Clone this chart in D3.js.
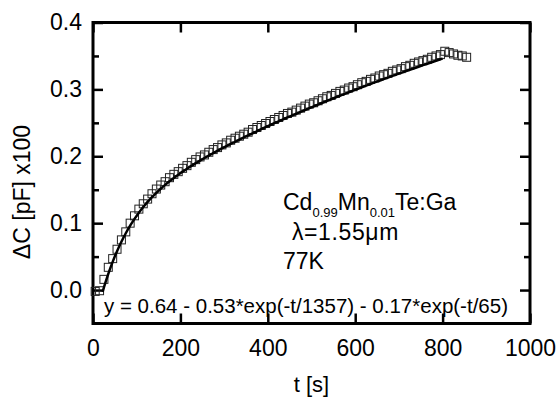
<!DOCTYPE html>
<html>
<head>
<meta charset="utf-8">
<script src="https://cdn.jsdelivr.net/npm/d3@7"></script>
<style>
  html, body { margin: 0; padding: 0; background: #fff; }
  svg { display: block; font-family: "Liberation Sans", Arial, sans-serif; }
</style>
</head>
<body>
<svg id="chart" width="560" height="403"></svg>
<script>
// Capacitance transient ΔC(t) measured every 10 s
const timeS = [5, 15, 25, 35, 45, 55, 65, 75, 85, 95, 105, 115, 125, 135, 145, 155,
  165, 175, 185, 195, 205, 215, 225, 235, 245, 255, 265, 275, 285, 295, 305, 315,
  325, 335, 345, 355, 365, 375, 385, 395, 405, 415, 425, 435, 445, 455, 465, 475,
  485, 495, 505, 515, 525, 535, 545, 555, 565, 575, 585, 595, 605, 615, 625, 635,
  645, 655, 665, 675, 685, 695, 705, 715, 725, 735, 745, 755, 765, 775, 785, 795,
  805, 815, 825, 835, 845, 855];
const deltaC = [-0.002, -0.001, 0.016, 0.034, 0.047, 0.061, 0.075, 0.087, 0.100, 0.111, 0.121, 0.129, 0.136, 0.144, 0.151, 0.157,
  0.162, 0.168, 0.173, 0.177, 0.182, 0.186, 0.191, 0.195, 0.199, 0.202, 0.206, 0.210, 0.213, 0.217, 0.220, 0.224,
  0.227, 0.230, 0.233, 0.236, 0.240, 0.243, 0.246, 0.249, 0.252, 0.255, 0.258, 0.261, 0.264, 0.266, 0.269, 0.272,
  0.275, 0.278, 0.280, 0.283, 0.286, 0.289, 0.291, 0.294, 0.297, 0.299, 0.302, 0.304, 0.307, 0.310, 0.312, 0.315,
  0.317, 0.320, 0.322, 0.324, 0.327, 0.329, 0.331, 0.334, 0.336, 0.339, 0.341, 0.343, 0.345, 0.348, 0.350, 0.352,
  0.357, 0.355, 0.353, 0.351, 0.350, 0.348];

// Two-exponential fit y = 0.64 - 0.53*exp(-t/1357) - 0.17*exp(-t/65), tabulated
const fitT = [22, 25, 35, 45, 55, 65, 75, 85, 95, 105, 115, 125, 135, 145, 155,
  165, 175, 185, 195, 205, 215, 225, 235, 245, 255, 265, 275, 285, 295, 305, 315,
  325, 335, 345, 355, 365, 375, 385, 395, 405, 415, 425, 435, 445, 455, 465, 475,
  485, 495, 505, 515, 525, 535, 545, 555, 565, 575, 585, 595, 605, 615, 625, 635,
  645, 655, 665, 675, 685, 695, 705, 715, 725, 735, 745, 755, 765, 775, 785, 795, 800];
const fitY = [-0.0027, 0.0040, 0.0243, 0.0422, 0.0581, 0.0722, 0.0849, 0.0962, 0.1064, 0.1157, 0.1241, 0.1318, 0.1389, 0.1454, 0.1515,
  0.1572, 0.1626, 0.1677, 0.1725, 0.1771, 0.1814, 0.1856, 0.1897, 0.1936, 0.1974, 0.2011, 0.2047, 0.2083, 0.2117, 0.2151, 0.2185,
  0.2217, 0.2250, 0.2281, 0.2313, 0.2344, 0.2374, 0.2405, 0.2435, 0.2464, 0.2494, 0.2523, 0.2551, 0.2580, 0.2608, 0.2636, 0.2664,
  0.2692, 0.2719, 0.2746, 0.2773, 0.2800, 0.2826, 0.2853, 0.2879, 0.2905, 0.2930, 0.2956, 0.2981, 0.3006, 0.3031, 0.3056, 0.3081,
  0.3105, 0.3129, 0.3153, 0.3177, 0.3201, 0.3224, 0.3247, 0.3271, 0.3294, 0.3316, 0.3339, 0.3362, 0.3384, 0.3406, 0.3428, 0.3450, 0.3461];

const xTicks = [0, 200, 400, 600, 800, 1000];
const yTicks = [0.0, 0.1, 0.2, 0.3, 0.4];
const yMinorTicks = [0.05, 0.15, 0.25, 0.35];
const equationText = "y = 0.64 - 0.53*exp(-t/1357) - 0.17*exp(-t/65)";

const svg = d3.select("#chart");
const padL = 93, padR = 530, padT = 22.5, padB = 323.5;

const x = d3.scaleLinear().domain([0, 1000]).range([padL, padR]);
const y = d3.scaleLinear().domain([-0.05, 0.4]).range([padB, padT]);

const tickW = 2.5;
function styleAxis(g) {
  g.select(".domain").remove();
  g.selectAll(".tick line").attr("stroke", "#000").attr("stroke-width", tickW);
  g.selectAll(".tick text").attr("fill", "#000")
    .style("font-family", '"Liberation Sans", Arial, sans-serif')
    .style("font-size", "23px");
}

// bottom axis with labels, ticks pointing inward
svg.append("g").attr("transform", `translate(0,${padB})`)
  .call(d3.axisBottom(x).tickValues(xTicks).tickSize(-10).tickPadding(16).tickFormat(d3.format("d")))
  .call(styleAxis);
// top axis, ticks only
svg.append("g").attr("transform", `translate(0,${padT})`)
  .call(d3.axisTop(x).tickValues(xTicks).tickSize(-10).tickFormat(""))
  .call(styleAxis);
// left axis with labels
svg.append("g").attr("transform", `translate(${padL},0)`)
  .call(d3.axisLeft(y).tickValues(yTicks).tickSize(-10).tickPadding(11).tickFormat(d3.format(".1f")))
  .call(styleAxis);
svg.append("g").attr("transform", `translate(${padL},0)`)
  .call(d3.axisLeft(y).tickValues(yMinorTicks).tickSize(-6).tickFormat(""))
  .call(styleAxis);
// right axis, ticks only
svg.append("g").attr("transform", `translate(${padR},0)`)
  .call(d3.axisRight(y).tickValues(yTicks).tickSize(-10).tickFormat(""))
  .call(styleAxis);
svg.append("g").attr("transform", `translate(${padR},0)`)
  .call(d3.axisRight(y).tickValues(yMinorTicks).tickSize(-6).tickFormat(""))
  .call(styleAxis);

// frame
svg.append("rect")
  .attr("x", padL).attr("y", padT)
  .attr("width", padR - padL).attr("height", padB - padT)
  .attr("fill", "none").attr("stroke", "#000").attr("stroke-width", 3);

// data markers: open squares
const sq = 8;
svg.append("g").selectAll("rect")
  .data(timeS.map((t, i) => [t, deltaC[i]]))
  .join("rect")
  .attr("x", d => x(d[0]) - sq / 2)
  .attr("y", d => y(d[1]) - sq / 2)
  .attr("width", sq).attr("height", sq)
  .attr("fill", "none").attr("stroke", "#222").attr("stroke-width", 1);

// fit curve
const line = d3.line().x(d => x(d[0])).y(d => y(d[1])).curve(d3.curveMonotoneX);
svg.append("path")
  .datum(fitT.map((t, i) => [t, fitY[i]]))
  .attr("d", line)
  .attr("fill", "none").attr("stroke", "#000").attr("stroke-width", 2.5);

// equation of the fit
svg.append("text").attr("x", 104).attr("y", 313)
  .attr("font-size", 20.5).text(equationText);

// sample annotation
const ann = svg.append("text").attr("x", 283).attr("y", 210).attr("font-size", 23);
ann.append("tspan").text("Cd");
ann.append("tspan").attr("font-size", 13).attr("dy", 7).text("0.99");
ann.append("tspan").attr("dy", -7).text("Mn");
ann.append("tspan").attr("font-size", 13).attr("dy", 7).text("0.01");
ann.append("tspan").attr("dy", -7).text("Te:Ga");

svg.append("text").attr("x", 285).attr("y", 240).attr("font-size", 23)
  .attr("letter-spacing", 0.6).text("\u00a0λ=1.55μm");
svg.append("text").attr("x", 283).attr("y", 269).attr("font-size", 23).text("77K");

// axis titles
svg.append("text").attr("x", x(500)).attr("y", 392)
  .attr("text-anchor", "middle").attr("font-size", 22).text("t [s]");
svg.append("text")
  .attr("transform", "translate(30,192) rotate(-90)")
  .attr("text-anchor", "middle").attr("font-size", 23).text("ΔC [pF] x100");
</script>
</body>
</html>
